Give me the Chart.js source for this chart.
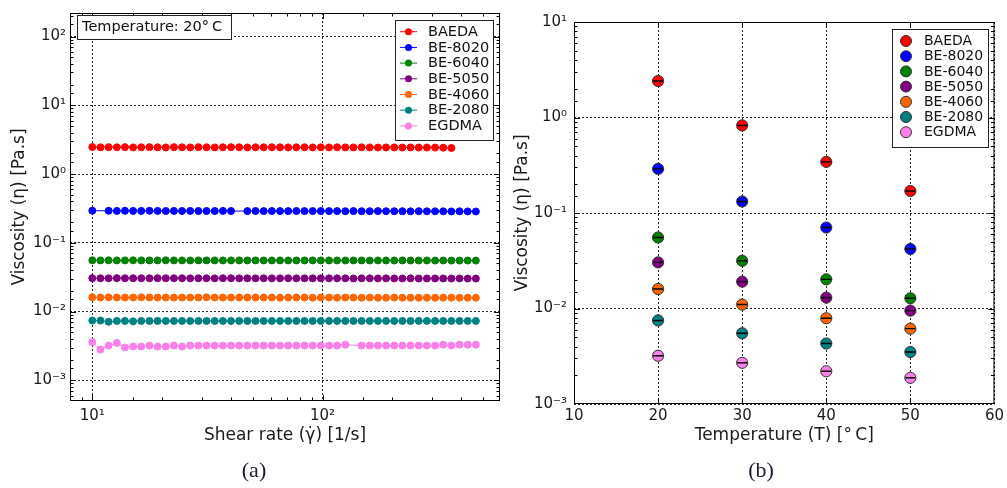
<!DOCTYPE html>
<html><head><meta charset="utf-8">
<script src="https://cdn.jsdelivr.net/npm/chart.js@4.4.0/dist/chart.umd.min.js"></script>
<style>
html,body{margin:0;padding:0;background:#fff;}
#wrap{position:relative;width:1007px;height:488px;overflow:hidden;background:#fff;}
canvas{position:absolute;left:0;top:0;}
.cap{position:absolute;font-family:"Liberation Serif","DejaVu Serif",serif;font-size:22px;color:#1b1b2e;transform:translate(-50%,-50%);white-space:nowrap;}
</style></head><body>
<div id="wrap">
<canvas id="c1" width="1007" height="488"></canvas>
<canvas id="c2" width="1007" height="488"></canvas>
<div class="cap" style="left:254px;top:470px">(a)</div>
<div class="cap" style="left:761px;top:470px">(b)</div>
</div>
<script>
// ---------- data ----------
const seriesNames = ['BAEDA','BE-8020','BE-6040','BE-5050','BE-4060','BE-2080','EGDMA'];
const seriesColors = ['#ff0000','#0000ff','#008000','#800080','#ff6600','#008080','#fa7fe8'];

// (a) shear-rate sweep at 20 °C
const shearRate = [10.0,10.85,11.77,12.78,13.86,15.04,16.32,17.71,19.21,20.85,
  22.62,24.54,26.63,28.90,31.35,34.02,36.91,40.05,43.46,47.16,
  51.17,55.52,60.24,65.37,70.93,76.96,83.50,90.60,98.31,106.7,
  115.7,125.6,136.2,147.8,160.4,174.0,188.8,204.9,222.3,241.2,
  261.7,284.0,308.2,334.4,362.8,393.7,427.1,463.5];
const shearBAEDA = [2.47,2.45,2.46,2.45,2.46,2.44,2.45,2.46,2.45,2.44,
  2.46,2.45,2.44,2.46,2.45,2.44,2.45,2.46,2.45,2.44,
  2.45,2.45,2.46,2.45,2.44,2.45,2.45,2.44,2.45,2.44,
  2.45,2.44,2.44,2.45,2.44,2.43,2.44,2.44,2.43,2.44,
  2.43,2.43,2.43,2.42,2.40,null,null,null];
const shearBE8020 = [0.293,null,0.292,0.291,0.292,0.291,0.291,0.292,0.291,0.290,
  0.291,0.290,0.291,0.290,0.290,0.290,0.291,0.290,null,0.289,
  0.290,0.289,0.290,0.289,0.289,0.290,0.289,0.289,0.290,0.289,
  0.289,0.288,0.289,0.288,0.288,0.289,0.288,0.288,0.288,0.287,
  0.288,0.287,0.287,0.287,0.286,0.287,0.286,0.285];
const shearBE6040 = [0.0556,0.0555,0.0556,0.0555,0.0555,0.0556,0.0555,0.0555,0.0555,0.0556,
  0.0555,0.0555,0.0554,0.0555,0.0555,0.0555,0.0554,0.0555,0.0555,0.0554,
  0.0555,0.0554,0.0554,0.0555,0.0554,0.0554,0.0554,0.0555,0.0554,0.0554,
  0.0554,0.0553,0.0554,0.0554,0.0553,0.0554,0.0553,0.0553,0.0554,0.0553,
  0.0553,0.0553,0.0552,0.0553,0.0552,0.0552,0.0552,0.0551];
const shearBE5050 = [0.0306,0.0305,0.0305,0.0306,0.0305,0.0305,0.0305,0.0305,0.0306,0.0305,
  0.0305,0.0305,0.0304,0.0305,0.0305,0.0304,0.0305,0.0305,0.0304,0.0305,
  0.0304,0.0305,0.0304,0.0304,0.0305,0.0304,0.0304,0.0304,0.0305,0.0304,
  0.0304,0.0304,0.0303,0.0304,0.0304,0.0303,0.0304,0.0303,0.0303,0.0304,
  0.0303,0.0303,0.0303,0.0303,0.0302,0.0303,0.0302,0.0302];
const shearBE4060 = [0.0161,0.0160,0.0161,0.0160,0.0160,0.0160,0.0161,0.0160,0.0160,0.0160,
  0.0160,0.0160,0.0160,0.0160,0.0161,0.0160,0.0160,0.0160,0.0160,0.0160,
  0.0160,0.0160,0.0160,0.0159,0.0160,0.0160,0.0160,0.0159,0.0160,0.0160,
  0.0159,0.0160,0.0160,0.0159,0.0160,0.0159,0.0159,0.0160,0.0159,0.0159,
  0.0159,0.0159,0.0159,0.0159,0.0159,0.0159,0.0159,0.0159];
const shearBE2080 = [0.0074,0.0074,0.0071,0.0073,0.0073,0.0072,0.0073,0.0073,0.0073,0.0073,
  0.0073,0.0073,0.0073,0.0073,0.0073,0.0073,0.0073,0.0073,0.0073,0.0073,
  0.0073,0.0073,0.0073,0.0073,0.0073,0.0073,0.0073,0.0073,0.0073,0.0073,
  0.0073,0.0073,0.0073,0.0073,0.0073,0.0073,0.0073,0.0073,0.0073,0.0073,
  0.0073,0.0073,0.0073,0.0073,0.0073,0.0073,0.0073,0.0073];
const shearEGDMA = [0.0036,0.0028,0.0032,0.0035,0.0030,0.0031,0.0031,0.0032,0.0031,0.0031,
  0.0032,0.0031,0.0032,0.0032,0.0032,0.0032,0.0032,0.0032,0.0032,0.0032,
  0.0032,0.0032,0.0032,0.0032,0.0032,0.0032,0.0032,0.0032,0.0032,0.0032,
  0.0032,0.0033,null,0.0032,0.0032,0.0032,0.0032,0.0032,0.0032,0.0032,
  0.0032,0.0032,0.0032,0.0033,0.0032,0.0033,0.0033,0.0033];
const shearSeries = [shearBAEDA,shearBE8020,shearBE6040,shearBE5050,shearBE4060,shearBE2080,shearEGDMA];

// (b) viscosity vs temperature
const temperature = [20,30,40,50];
const tempBAEDA  = [2.41,0.826,0.343,0.170];
const tempBE8020 = [0.290,0.132,0.0705,0.042];
const tempBE6040 = [0.0554,0.0316,0.0202,0.0128];
const tempBE5050 = [0.0304,0.0191,0.0130,0.0095];
const tempBE4060 = [0.0160,0.0110,0.0079,0.00615];
const tempBE2080 = [0.0075,0.0055,0.0043,0.0035];
const tempEGDMA  = [0.0032,0.0027,0.0022,0.00188];
const tempSeries = [tempBAEDA,tempBE8020,tempBE6040,tempBE5050,tempBE4060,tempBE2080,tempEGDMA];

// ---------- helpers ----------
const FONT = "'DejaVu Sans', sans-serif";
const TXT = '#1a1a1a';
const isPow10 = v => { const l = Math.log10(v); return Math.abs(l - Math.round(l)) < 1e-6; };
const SUP = {'-':'\u207B','0':'\u2070','1':'\u00B9','2':'\u00B2','3':'\u00B3','4':'\u2074','5':'\u2075','6':'\u2076','7':'\u2077','8':'\u2078','9':'\u2079'};
const powLabel = v => isPow10(v) ? '10' + String(Math.round(Math.log10(v))).split('').map(c => SUP[c]).join('') : '';

function drawFrameTicks(chart) {
  const {ctx, chartArea: a, scales} = chart;
  ctx.save();
  ctx.strokeStyle = '#000'; ctx.lineWidth = 1;
  ctx.beginPath();
  const xs = scales.x, ys = scales.y;
  xs.ticks.forEach(t => {
    const p = xs.getPixelForValue(t.value);
    if (p < a.left + 1 || p > a.right - 1) return;
    const len = xs.type === 'logarithmic' ? (isPow10(t.value) ? 6 : 3.5) : 6;
    const px = Math.round(p) + 0.5;
    ctx.moveTo(px, a.bottom); ctx.lineTo(px, a.bottom - len);
    ctx.moveTo(px, a.top); ctx.lineTo(px, a.top + len);
  });
  ys.ticks.forEach(t => {
    const p = ys.getPixelForValue(t.value);
    if (p < a.top + 1 || p > a.bottom - 1) return;
    const len = ys.type === 'logarithmic' ? (isPow10(t.value) ? 6 : 3.5) : 6;
    const py = Math.round(p) + 0.5;
    ctx.moveTo(a.left, py); ctx.lineTo(a.left + len, py);
    ctx.moveTo(a.right, py); ctx.lineTo(a.right - len, py);
  });
  ctx.stroke();
  ctx.strokeRect(a.left + 0.5, a.top + 0.5, a.right - a.left - 1, a.bottom - a.top - 1);
  ctx.restore();
}

function drawLegend(chart, L) {
  const {ctx, chartArea: a} = chart;
  const x0 = Math.round(a.right - L.offR - L.w), y0 = Math.round(a.top + L.offT);
  ctx.save();
  ctx.fillStyle = '#fff'; ctx.fillRect(x0, y0, L.w, L.h);
  ctx.strokeStyle = '#222'; ctx.lineWidth = 1; ctx.strokeRect(x0 + 0.5, y0 + 0.5, L.w, L.h);
  ctx.font = L.font; ctx.textBaseline = 'middle'; ctx.textAlign = 'left';
  seriesNames.forEach((name, i) => {
    const y = y0 + L.first + i * L.step;
    const c = seriesColors[i];
    if (L.kind === 'line') {
      ctx.strokeStyle = c; ctx.lineWidth = 1;
      ctx.beginPath(); ctx.moveTo(x0 + 5, y); ctx.lineTo(x0 + 22, y); ctx.stroke();
      ctx.fillStyle = c; ctx.beginPath(); ctx.arc(x0 + 13.5, y, 3.5, 0, Math.PI * 2); ctx.fill();
    } else {
      ctx.fillStyle = c; ctx.strokeStyle = '#333'; ctx.lineWidth = 1;
      ctx.beginPath(); ctx.arc(x0 + L.mx, y, 5.5, 0, Math.PI * 2); ctx.fill(); ctx.stroke();
    }
    ctx.fillStyle = '#111'; ctx.fillText(name, x0 + L.tx, y + 0.5);
  });
  ctx.restore();
}

function drawTextBox(chart, B) {
  const {ctx, chartArea: a} = chart;
  const x0 = Math.round(a.left + B.offL), y0 = Math.round(a.top + B.offT);
  ctx.save();
  ctx.fillStyle = '#fff'; ctx.fillRect(x0, y0, B.w, B.h);
  ctx.strokeStyle = '#222'; ctx.lineWidth = 1; ctx.strokeRect(x0 + 0.5, y0 + 0.5, B.w, B.h);
  ctx.font = B.font; ctx.fillStyle = '#111'; ctx.textBaseline = 'middle'; ctx.textAlign = 'left';
  ctx.fillText(B.text, x0 + 5, y0 + B.h / 2 + 0.5);
  ctx.restore();
}

const gridOpts = { color: c => (c.tick && isPow10(c.tick.value)) ? 'rgba(0,0,0,0.85)' : 'rgba(0,0,0,0)', lineWidth: 1, drawTicks: false };
const gridLin = { color: 'rgba(0,0,0,0.85)', lineWidth: 1, drawTicks: false };
const borderOpts = { display: false, dash: [2, 2] };
const tickFont = { family: FONT, size: 15 };
const titleFont = { family: FONT, size: 17 };

// ---------- chart (a) ----------
new Chart(document.getElementById('c1'), {
  type: 'line',
  data: {
    datasets: seriesNames.map((name, i) => ({
      label: name,
      data: shearRate.map((x, k) => ({ x: x, y: shearSeries[i][k] })),
      borderColor: seriesColors[i],
      backgroundColor: seriesColors[i],
      pointBackgroundColor: seriesColors[i],
      pointBorderColor: seriesColors[i],
      pointRadius: 3.5, pointBorderWidth: 1, borderWidth: 1,
      spanGaps: true, tension: 0, fill: false
    }))
  },
  options: {
    responsive: false, animation: false, devicePixelRatio: 1,
    layout: { padding: { left: 0, right: 507, top: 12, bottom: 42 } },
    plugins: { legend: { display: false }, tooltip: { enabled: false } },
    scales: {
      x: {
        type: 'logarithmic', min: 8, max: 590,
        afterFit: s => { s.height = 45; },
        grid: gridOpts, border: borderOpts,
        ticks: { autoSkip: false, maxRotation: 0, padding: 6, font: tickFont, color: TXT, callback: v => powLabel(v) },
        title: { display: true, text: 'Shear rate (\u03B3\u0307) [1/s]', font: titleFont, color: TXT, padding: { top: 0, bottom: 0 } }
      },
      y: {
        type: 'logarithmic', min: 5e-4, max: 220,
        afterFit: s => { s.width = 70; },
        grid: gridOpts, border: borderOpts,
        ticks: { autoSkip: false, padding: 4, font: tickFont, color: TXT, callback: v => powLabel(v) },
        title: { display: true, text: 'Viscosity (\u03B7) [Pa.s]', font: titleFont, color: TXT, padding: { top: 9, bottom: 0 } }
      }
    }
  },
  plugins: [{
    id: 'decorA',
    afterDraw(chart) {
      drawFrameTicks(chart);
      drawTextBox(chart, { offL: 7, offT: 2, w: 154, h: 24, font: '14.5px ' + FONT, text: 'Temperature: 20\u00B0\u2009C' });
      drawLegend(chart, { kind: 'line', offR: 7, offT: 7, w: 98, h: 120, first: 11.7, step: 15.7, tx: 33, font: '14.5px ' + FONT });
    }
  }]
});

// ---------- chart (b) ----------
const dotSets = seriesNames.map((name, i) => ({
  label: name,
  data: temperature.map((t, k) => ({ x: t, y: tempSeries[i][k] })),
  backgroundColor: seriesColors[i], borderColor: '#333',
  pointRadius: 5.6, pointBorderWidth: 1, showLine: false, order: 1
}));
const barSets = seriesNames.map((name, i) => ({
  label: name + ' err',
  data: temperature.map((t, k) => ({ x: t, y: tempSeries[i][k] })),
  pointStyle: 'line', pointRadius: 5, borderColor: '#000', backgroundColor: '#000',
  pointBorderWidth: 1.4, showLine: false, order: 0
}));
new Chart(document.getElementById('c2'), {
  type: 'scatter',
  data: { datasets: dotSets.concat(barSets) },
  options: {
    responsive: false, animation: false, devicePixelRatio: 1,
    layout: { padding: { left: 510, right: 12, top: 22, bottom: 42 } },
    plugins: { legend: { display: false }, tooltip: { enabled: false } },
    scales: {
      x: {
        type: 'linear', min: 10, max: 60,
        afterFit: s => { s.height = 42; },
        grid: gridLin, border: borderOpts,
        ticks: { stepSize: 10, autoSkip: false, maxRotation: 0, padding: 3, font: tickFont, color: TXT },
        title: { display: true, text: 'Temperature (T) [\u00B0\u2009C]', font: titleFont, color: TXT, padding: { top: 0, bottom: 0 } }
      },
      y: {
        type: 'logarithmic', min: 1e-3, max: 10,
        afterFit: s => { s.width = 64; },
        grid: gridOpts, border: borderOpts,
        ticks: { autoSkip: false, padding: 7, font: tickFont, color: TXT, callback: v => powLabel(v) },
        title: { display: true, text: 'Viscosity (\u03B7) [Pa.s]', font: titleFont, color: TXT, padding: { top: 2.5, bottom: 0 } }
      }
    }
  },
  plugins: [{
    id: 'decorB',
    afterDraw(chart) {
      drawFrameTicks(chart);
      drawLegend(chart, { kind: 'dot', offR: 6, offT: 7, w: 96, h: 118, first: 12, step: 15.2, mx: 14, tx: 32, font: '14px ' + FONT });
    }
  }]
});
</script>
</body></html>
